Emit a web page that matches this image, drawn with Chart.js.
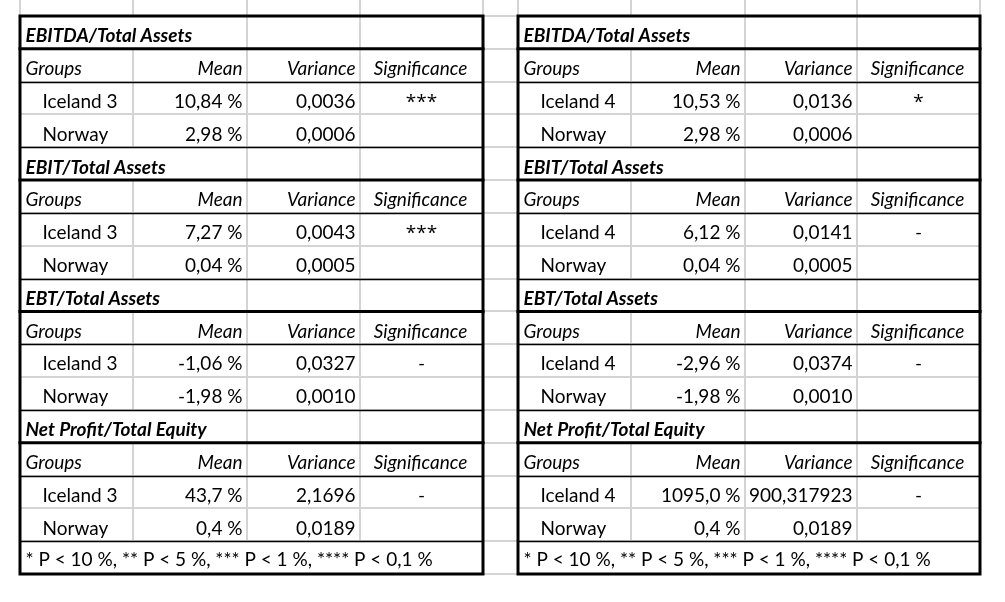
<!DOCTYPE html>
<html>
<head>
<meta charset="utf-8">
<style>
html,body{margin:0;padding:0;background:#fff;}
#wrap{width:1005px;height:602px;position:relative;overflow:hidden;}
canvas{display:block;}
</style>
<script src="https://cdn.jsdelivr.net/npm/chart.js@4.4.1/dist/chart.umd.min.js"></script>
</head>
<body>
<div id="wrap"><canvas id="c" width="1005" height="602"></canvas></div>
<script>
// ---------------- DATA ----------------
const sections = ["EBITDA/Total Assets", "EBIT/Total Assets", "EBT/Total Assets", "Net Profit/Total Equity"];
const headers = ["Groups", "Mean", "Variance", "Significance"];
const groupsLeft = ["Iceland 3", "Norway"];
const groupsRight = ["Iceland 4", "Norway"];
const meanLeft = [[10.84, 2.98], [7.27, 0.04], [-1.06, -1.98], [43.7, 0.4]];
const meanRight = [[10.53, 2.98], [6.12, 0.04], [-2.96, -1.98], [1095.0, 0.4]];
const meanDecimals = [2, 2, 2, 1];
const varLeft = [[0.0036, 0.0006], [0.0043, 0.0005], [0.0327, 0.0010], [2.1696, 0.0189]];
const varRight = [[0.0136, 0.0006], [0.0141, 0.0005], [0.0374, 0.0010], [900.317923, 0.0189]];
const varDecimalsLeft = [[4, 4], [4, 4], [4, 4], [4, 4]];
const varDecimalsRight = [[4, 4], [4, 4], [4, 4], [6, 4]];
const sigLeft = ["***", "***", "-", "-"];
const sigRight = ["*", "-", "-", "-"];
const footnote = "* P < 10 %, ** P < 5 %, *** P < 1 %, **** P < 0,1 %";

// ---------------- LAYOUT ----------------
const SHEET_X0 = 20;
const colWidths = [113, 114, 113, 123, 35, 113, 114, 112, 123];
const edges = [SHEET_X0];
colWidths.forEach(w => edges.push(edges[edges.length - 1] + w));
const ROWS = 17;
const Y_MIN = -0.4875, Y_MAX = 17.853;
const FONT = "Lato, 'Noto Sans', sans-serif";
const SIG_FONT = "'Open Sans', Lato, sans-serif";
const FS = 19;
const BASE_OFF = 6.6;

const fmtNum = (v, d) => v.toFixed(d).replace('.', ',');

// build text cells (as data points placed through the scales)
function buildCells(tableStart, groups, means, vars, varDec, sigs) {
  const e = i => edges[tableStart + i];
  const cells = [];
  sections.forEach((title, s) => {
    const r0 = 4 * s;
    cells.push({x: e(0), y: r0 + 1, text: title, align: 'left', dx: 5.5, style: 'italic bold'});
    cells.push({x: e(0), y: r0 + 2, text: headers[0], align: 'left', dx: 5.5, style: 'italic'});
    cells.push({x: e(2), y: r0 + 2, text: headers[1], align: 'right', dx: -4.5, style: 'italic'});
    cells.push({x: e(3), y: r0 + 2, text: headers[2], align: 'right', dx: -4.5, style: 'italic'});
    cells.push({x: (e(3) + e(4)) / 2, y: r0 + 2, text: headers[3], align: 'center', dx: -1, style: 'italic'});
    groups.forEach((g, j) => {
      const r = r0 + 3 + j;
      cells.push({x: e(0), y: r, text: g, align: 'left', dx: 22.5, style: ''});
      cells.push({x: e(2), y: r, text: fmtNum(means[s][j], meanDecimals[s]) + ' %', align: 'right', dx: -4.5, style: ''});
      cells.push({x: e(3), y: r, text: fmtNum(vars[s][j], varDec[s][j]), align: 'right', dx: -4.5, style: ''});
      if (j === 0) cells.push({x: (e(3) + e(4)) / 2, y: r, text: sigs[s], align: 'center', dx: 0, style: '', sig: true});
    });
  });
  cells.push({x: e(0), y: 17, text: footnote, align: 'left', dx: 5.5, style: '', off: 1});
  return cells;
}

const cellsLeft = buildCells(0, groupsLeft, meanLeft, varLeft, varDecimalsLeft, sigLeft);
const cellsRight = buildCells(5, groupsRight, meanRight, varRight, varDecimalsRight, sigRight);

const sheetPlugin = {
  id: 'sheet',
  beforeDatasetsDraw(chart) {
    const ctx = chart.ctx, X = chart.scales.x, Y = chart.scales.y;
    const px = v => X.getPixelForValue(v), py = v => Y.getPixelForValue(v);
    const line = (x1, y1, x2, y2) => { ctx.beginPath(); ctx.moveTo(x1, y1); ctx.lineTo(x2, y2); ctx.stroke(); };
    ctx.save();
    ctx.fillStyle = '#ffffff';
    ctx.fillRect(0, 0, chart.width, chart.height);
    // gray sheet gridlines
    ctx.strokeStyle = '#d4d4d4';
    ctx.lineWidth = 2;
    edges.forEach((ev, i) => {
      const x = Math.round(px(ev));
      line(x, py(Y_MIN), x, py(0));
      const internal = (i > 0 && i < 4) || (i > 5 && i < 9);
      for (let r = 0; r < ROWS; r++) {
        const isTitle = r % 4 === 0 && r < 16;
        const isFoot = r === 16;
        if (internal && isFoot) continue;
        if (isTitle && (i === 1 || i === 6)) continue;
        line(x, py(r), x, py(r + 1));
      }
    });
    for (let k = 0; k <= ROWS; k++) {
      const y = Math.round(py(k));
      line(px(edges[0]), y, px(edges[edges.length - 1]) + 1, y);
    }
    // black borders
    ctx.strokeStyle = '#000000';
    [[0, 4], [5, 9]].forEach(([a, b]) => {
      const x0 = px(edges[a]), x1 = px(edges[b]);
      ctx.lineWidth = 1.4;
      for (let s = 0; s < 4; s++) {
        line(x0, Math.round(py(4 * s + 2)) + 0.5, x1, Math.round(py(4 * s + 2)) + 0.5);
        line(x0, Math.round(py(4 * s + 4)) + 0.5, x1, Math.round(py(4 * s + 4)) + 0.5);
      }
      ctx.lineWidth = 3;
      ctx.lineCap = 'square';
      for (let s = 0; s < 4; s++) line(x0, py(4 * s + 1), x1, py(4 * s + 1));
      ctx.strokeRect(x0, py(0), x1 - x0, py(ROWS) - py(0));
      ctx.lineCap = 'butt';
    });
    ctx.restore();
  },
  afterDatasetsDraw(chart) {
    const ctx = chart.ctx;
    ctx.save();
    ctx.fillStyle = '#000000';
    ctx.textBaseline = 'alphabetic';
    chart.data.datasets.forEach((ds, di) => {
      const meta = chart.getDatasetMeta(di);
      meta.data.forEach((el, i) => {
        const c = ds.data[i];
        ctx.font = (c.style ? c.style + ' ' : '') + FS + 'px ' + (c.sig ? SIG_FONT : FONT);
        ctx.textAlign = c.align;
        ctx.fillText(c.text, el.x + c.dx, el.y - BASE_OFF - (c.off || 0));
      });
    });
    ctx.restore();
  }
};

new Chart(document.getElementById('c'), {
  type: 'scatter',
  data: {
    datasets: [
      {label: 'left', data: cellsLeft, pointRadius: 0, pointHoverRadius: 0},
      {label: 'right', data: cellsRight, pointRadius: 0, pointHoverRadius: 0}
    ]
  },
  options: {
    responsive: false,
    animation: false,
    devicePixelRatio: 1,
    events: [],
    layout: {padding: 0},
    plugins: {legend: {display: false}, tooltip: {enabled: false}, title: {display: false}},
    scales: {
      x: {type: 'linear', min: 0, max: 1005, display: false},
      y: {type: 'linear', min: Y_MIN, max: Y_MAX, reverse: true, display: false}
    }
  },
  plugins: [sheetPlugin]
});
</script>
</body>
</html>
